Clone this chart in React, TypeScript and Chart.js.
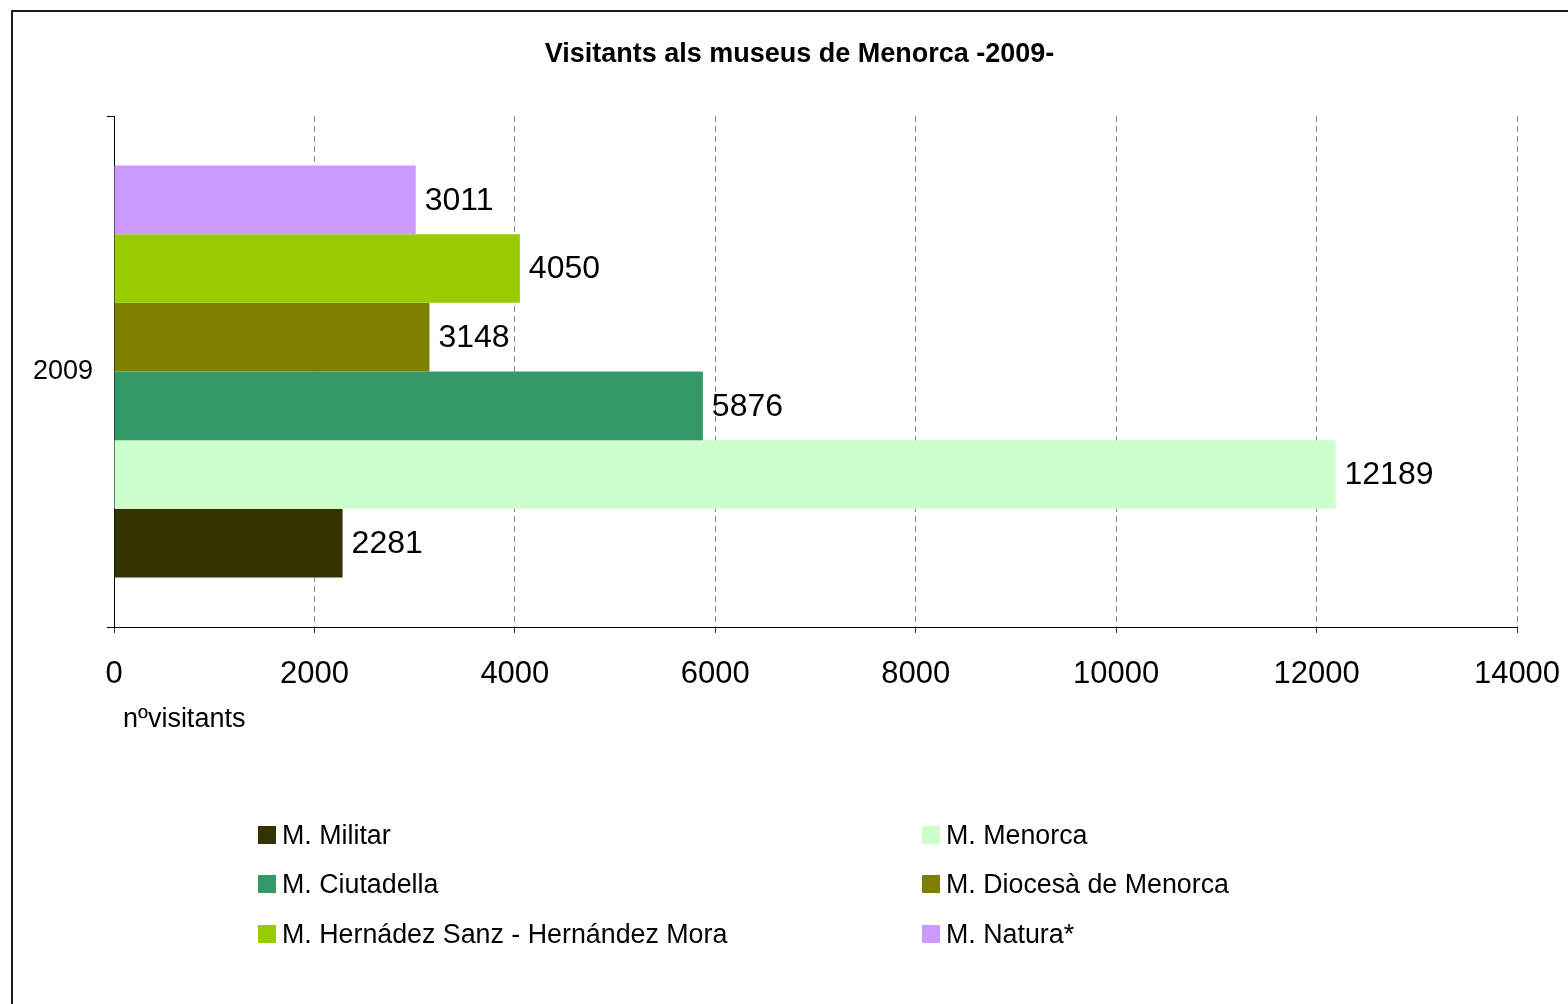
import React, { useEffect, useRef } from 'react';
import { Chart, registerables } from 'chart.js';

Chart.register(...registerables);

const chartTitle = 'Visitants als museus de Menorca -2009-';
const xAxisTitle = 'nºvisitants';
const categories = ['2009'];
const seriesNames = [
  'M. Militar',
  'M. Menorca',
  'M. Ciutadella',
  'M. Diocesà de Menorca',
  'M. Hernádez Sanz - Hernández Mora',
  'M. Natura*',
];
const seriesValues = [2281, 12189, 5876, 3148, 4050, 3011];
const seriesColors = ['#333300', '#CCFFCC', '#339966', '#808000', '#99CC00', '#CC99FF'];
const xTicks = [0, 2000, 4000, 6000, 8000, 10000, 12000, 14000];

const FONT = '"Liberation Sans", Arial, Helvetica, sans-serif';

const textPlugin = {
  id: 'textPlugin',
  afterDatasetsDraw(chart: any) {
    const ctx = chart.ctx;
    ctx.save();
    ctx.font = `32px ${FONT}`;
    ctx.fillStyle = '#000';
    ctx.textBaseline = 'middle';
    ctx.textAlign = 'left';
    chart.data.datasets.forEach((ds: any, i: number) => {
      const meta = chart.getDatasetMeta(i);
      meta.data.forEach((bar: any, j: number) => {
        ctx.fillText(String(ds.data[j]), bar.x + 9, bar.y + 1);
      });
    });
    ctx.restore();
  },
  afterDraw(chart: any) {
    const ctx = chart.ctx;
    ctx.save();
    ctx.fillStyle = '#000';
    ctx.textBaseline = 'middle';
    ctx.textAlign = 'center';
    ctx.font = `bold 27px ${FONT}`;
    ctx.fillText(chartTitle, 799.5, 55);
    ctx.textAlign = 'left';
    ctx.font = `27px ${FONT}`;
    ctx.fillText(xAxisTitle, 123, 720);
    ctx.restore();
  },
};

function ChartCanvas() {
  const ref = useRef<HTMLCanvasElement | null>(null);
  useEffect(() => {
    if (!ref.current) return;
    // datasets reversed so the first series sits at the bottom, as in the reference
    const order = seriesNames.map((_, i) => i).reverse();
    const chart = new Chart(ref.current, {
      type: 'bar',
      data: {
        labels: categories,
        datasets: order.map((i) => ({
          label: seriesNames[i],
          data: [seriesValues[i]],
          backgroundColor: seriesColors[i],
          borderWidth: 0,
          categoryPercentage: 0.806,
          barPercentage: 1.0,
        })),
      },
      options: {
        indexAxis: 'y',
        animation: false,
        responsive: false,
        maintainAspectRatio: false,
        layout: { padding: { left: 0, right: 51, top: 116, bottom: 317 } },
        plugins: {
          legend: { display: false },
          title: { display: false },
          tooltip: { enabled: false },
        },
        scales: {
          x: {
            type: 'linear',
            min: 0,
            max: 14000,
            afterBuildTicks: (s: any) => {
              s.ticks = xTicks.map((v) => ({ value: v }));
            },
            afterFit: (s: any) => {
              s.height = 60;
              s.paddingLeft = 0;
              s.paddingRight = 0;
            },
            ticks: {
              font: { family: FONT, size: 31 },
              color: '#000',
              padding: 23,
              maxRotation: 0,
              autoSkip: false,
              callback: (v: any) => String(v),
            },
            grid: {
              color: '#8c8c8c',
              lineWidth: 1,
              drawTicks: true,
              tickLength: 6,
              tickColor: '#333',
              tickBorderDash: [],
            },
            border: { display: true, color: '#000', width: 1, dash: [6, 4] },
          },
          y: {
            type: 'category',
            offset: true,
            z: 1,
            afterFit: (s: any) => {
              s.width = 114;
              s.paddingTop = 0;
              s.paddingBottom = 0;
            },
            ticks: {
              font: { family: FONT, size: 27 },
              color: '#000',
              padding: 14,
            },
            grid: {
              offset: true,
              drawOnChartArea: false,
              drawTicks: true,
              tickLength: 7,
              tickColor: '#000',
              tickBorderDash: [],
            },
            border: { display: true, color: '#000', width: 1 },
          },
        },
      },
      plugins: [textPlugin],
    } as any);
    return () => chart.destroy();
  }, []);
  return (
    <canvas
      ref={ref}
      width={1568}
      height={1004}
      style={{ position: 'absolute', left: 0, top: 0, width: 1568, height: 1004, display: 'block' }}
    />
  );
}

const legendLayout = [
  { left: 258, top: 835 },
  { left: 922, top: 835 },
  { left: 258, top: 884 },
  { left: 922, top: 884 },
  { left: 258, top: 934 },
  { left: 922, top: 934 },
];

export default function App() {
  return (
    <div
      style={{
        position: 'absolute',
        left: 0,
        top: 0,
        width: 1568,
        height: 1004,
        overflow: 'hidden',
        background: '#fff',
      }}
    >
      <ChartCanvas />
      <div
        style={{
          position: 'absolute',
          left: 11,
          top: 10,
          width: 1620,
          height: 1100,
          border: '2px solid #1a1a1a',
          boxSizing: 'border-box',
          pointerEvents: 'none',
        }}
      />
      {seriesNames.map((name, i) => (
        <div
          key={name}
          style={{
            position: 'absolute',
            left: legendLayout[i].left,
            top: legendLayout[i].top - 16,
            height: 32,
            display: 'flex',
            alignItems: 'center',
            whiteSpace: 'nowrap',
            fontFamily: FONT,
            fontSize: 26.8,
            color: '#000',
          }}
        >
          <span
            style={{
              display: 'inline-block',
              width: 18,
              height: 18,
              background: seriesColors[i],
              marginRight: 6,
            }}
          />
          <span>{name}</span>
        </div>
      ))}
    </div>
  );
}
